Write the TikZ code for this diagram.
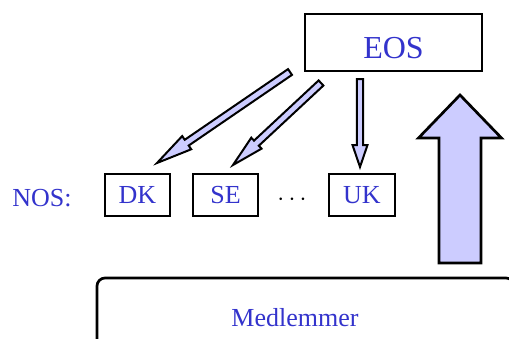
\documentclass[tikz,border=0pt]{standalone}
\usepackage{fontspec}
\setmainfont{Liberation Serif}
\usetikzlibrary{calc}
\definecolor{txtblue}{RGB}{51,51,204}
\definecolor{arrowfill}{RGB}{204,204,255}
\tikzset{
  box/.style={draw=black, line width=2.7pt, inner sep=0pt, text=txtblue, font=\fontsize{26}{30}\selectfont},
  txt/.style={inner sep=0pt, text=txtblue, font=\fontsize{26}{30}\selectfont},
  blockar/.style={draw=black, fill=arrowfill, line width=2pt, line join=miter},
  bigar/.style={draw=black, fill=arrowfill, line width=2.7pt, line join=miter},
}
% #1 tail, #2 tip, #3 shaft half width, #4 head length, #5 head half width, #6 style
\newcommand\blockarrow[6]{%
  \coordinate (#1-hb) at ($(#2)!#4!(#1)$);
  \draw[#6] ($(#1)!#3!90:(#2)$) -- ($(#1-hb)!#3!90:(#2)$) -- ($(#1-hb)!#5!90:(#2)$)
    -- (#2) -- ($(#1-hb)!#5!-90:(#2)$) -- ($(#1-hb)!#3!-90:(#2)$) -- ($(#1)!#3!-90:(#2)$) -- cycle;
}
\begin{document}
\begin{tikzpicture}[x=1pt,y=-1pt]
\useasboundingbox (0,0) rectangle (509,338);
\clip (0,0) rectangle (509,338);
% boxes
\node[box, minimum width=177pt, minimum height=57pt, font=\fontsize{32}{36}\selectfont, text height=31pt, text depth=0pt] (eos) at (393.5,42.5) {EOS};
\node[box, minimum width=65pt, minimum height=42pt] (dk) at (137.5,195) {DK};
\node[box, minimum width=65pt, minimum height=42pt] (se) at (225.5,195) {SE};
\node[box, minimum width=66pt, minimum height=42pt] (uk) at (362,195) {UK};
\node[inner sep=0pt, anchor=base, font=\fontsize{25}{30}\selectfont] (dots) at (292,205) {$\cdots$};
\node[txt, anchor=base] (nos) at (42,206) {NOS:};
\node[draw=black, line width=2.7pt, rounded corners=8pt, minimum width=417pt, minimum height=120pt, inner sep=0pt] (medl) at (305.5,338) {};
\node[txt, anchor=base] (medltxt) at (295,326) {Medlemmer};
% thin arrows
\coordinate (t1) at (290,72);  \coordinate (h1) at (157,163);
\coordinate (t2) at (321,83);  \coordinate (h2) at (233,165);
\coordinate (t3) at (360,79);  \coordinate (h3) at (360,167);
\blockarrow{t1}{h1}{3.5pt}{36pt}{8pt}{blockar}
\blockarrow{t2}{h2}{3.5pt}{32pt}{7.5pt}{blockar}
\blockarrow{t3}{h3}{3.2pt}{22pt}{7.5pt}{blockar}
% big arrow
\coordinate (t4) at (460,263); \coordinate (h4) at (460,95);
\blockarrow{t4}{h4}{21pt}{43pt}{41.5pt}{bigar}
\end{tikzpicture}
\end{document}
